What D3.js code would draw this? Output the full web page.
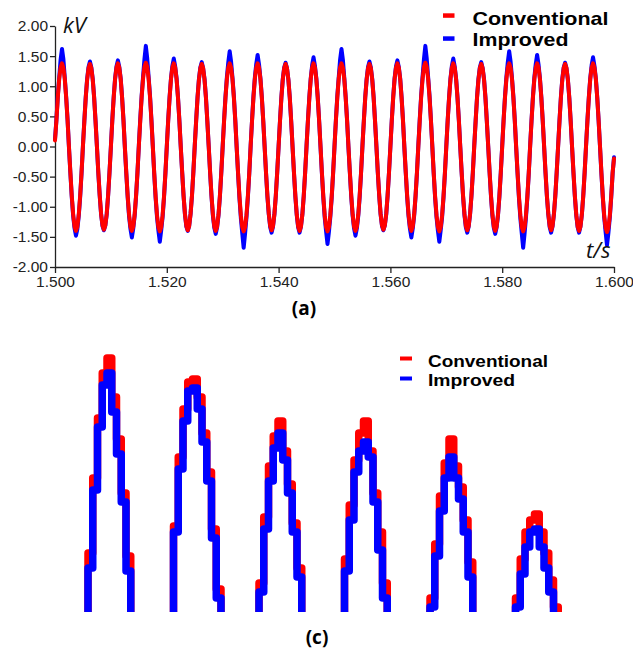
<!DOCTYPE html>
<html><head><meta charset="utf-8">
<script src="https://cdn.jsdelivr.net/npm/d3@7"></script>
<style>body{margin:0;background:#fff}svg{display:block}</style>
</head><body>
<svg id="chart" width="633" height="652"></svg>
<script>
// ---------- shared ----------
const seriesNames = ["Conventional", "Improved"];
const seriesColors = ["#ff0000", "#0000ff"];

// ---------- panel (a) ----------
const yTicksA = [2, 1.5, 1, 0.5, 0, -0.5, -1, -1.5, -2];
const yTickLabelsA = ["2.00", "1.50", "1.00", "0.50", "0.00", "-0.50", "-1.00", "-1.50", "-2.00"];
const xTicksA = [1.5, 1.52, 1.54, 1.56, 1.58, 1.6];
const xTickLabelsA = ["1.500", "1.520", "1.540", "1.560", "1.580", "1.600"];
const tStart = 1.5, sampleStep = 0.00025;   // s
const conventionalA = [
 0.10,0.43,0.81,1.12,1.31,1.38,1.31,1.12,0.81,0.43,-0.01,-0.43,-0.82,-1.13,-1.33,-1.40,-1.33,-1.13,-0.82,-0.43,
 0.01,0.42,0.81,1.11,1.30,1.37,1.30,1.11,0.81,0.42,0.00,-0.43,-0.81,-1.12,-1.31,-1.38,-1.31,-1.12,-0.81,-0.43,
 0.00,0.43,0.81,1.12,1.31,1.38,1.31,1.12,0.81,0.43,-0.01,-0.43,-0.82,-1.13,-1.33,-1.40,-1.33,-1.13,-0.82,-0.43,
 0.01,0.43,0.82,1.12,1.32,1.39,1.32,1.12,0.82,0.43,0.00,-0.44,-0.83,-1.14,-1.34,-1.41,-1.34,-1.14,-0.83,-0.44,
 0.00,0.43,0.81,1.12,1.31,1.38,1.31,1.12,0.81,0.43,-0.01,-0.43,-0.82,-1.12,-1.32,-1.39,-1.32,-1.12,-0.82,-0.43,
 0.01,0.42,0.81,1.11,1.30,1.37,1.30,1.11,0.81,0.42,0.00,-0.43,-0.82,-1.13,-1.33,-1.40,-1.33,-1.13,-0.82,-0.43,
 0.00,0.43,0.81,1.12,1.31,1.38,1.31,1.12,0.81,0.43,-0.01,-0.44,-0.83,-1.14,-1.34,-1.41,-1.34,-1.14,-0.83,-0.44,
 0.01,0.43,0.81,1.12,1.31,1.38,1.31,1.12,0.81,0.43,0.00,-0.43,-0.82,-1.12,-1.32,-1.39,-1.32,-1.12,-0.82,-0.43,
 0.00,0.42,0.81,1.11,1.30,1.37,1.30,1.11,0.81,0.42,-0.01,-0.43,-0.82,-1.13,-1.33,-1.40,-1.33,-1.13,-0.82,-0.43,
 0.01,0.43,0.81,1.12,1.31,1.38,1.31,1.12,0.81,0.43,0.00,-0.44,-0.83,-1.14,-1.34,-1.41,-1.34,-1.14,-0.83,-0.44,
 0.00,0.43,0.81,1.12,1.31,1.38,1.31,1.12,0.81,0.43,-0.01,-0.43,-0.82,-1.13,-1.33,-1.40,-1.33,-1.13,-0.82,-0.43,
 0.01,0.42,0.81,1.11,1.30,1.37,1.30,1.11,0.81,0.42,0.00,-0.43,-0.81,-1.12,-1.31,-1.38,-1.31,-1.12,-0.81,-0.43,
 0.00,0.43,0.81,1.12,1.31,1.38,1.31,1.12,0.81,0.43,-0.01,-0.43,-0.82,-1.13,-1.33,-1.40,-1.33,-1.13,-0.82,-0.43,
 0.01,0.43,0.82,1.12,1.32,1.39,1.32,1.12,0.82,0.43,0.00,-0.44,-0.83,-1.14,-1.34,-1.41,-1.34,-1.14,-0.83,-0.44,
 0.00,0.43,0.81,1.12,1.31,1.38,1.31,1.12,0.81,0.43,-0.01,-0.43,-0.82,-1.12,-1.32,-1.39,-1.32,-1.12,-0.82,-0.43,
 0.01,0.42,0.81,1.11,1.30,1.37,1.30,1.11,0.81,0.42,0.00,-0.43,-0.82,-1.13,-1.33,-1.40,-1.33,-1.13,-0.82,-0.43,
 0.00,0.43,0.81,1.12,1.31,1.38,1.31,1.12,0.81,0.43,-0.01,-0.44,-0.83,-1.14,-1.34,-1.41,-1.34,-1.14,-0.83,-0.44,
 0.01,0.43,0.81,1.12,1.31,1.38,1.31,1.12,0.81,0.43,0.00,-0.43,-0.82,-1.12,-1.32,-1.39,-1.32,-1.12,-0.82,-0.43,
 0.00,0.42,0.81,1.11,1.30,1.37,1.30,1.11,0.81,0.42,-0.01,-0.43,-0.82,-1.13,-1.33,-1.40,-1.33,-1.13,-0.82,-0.43,
 0.01,0.43,0.81,1.12,1.31,1.38,1.31,1.12,0.81,0.43,0.00,-0.44,-0.83,-1.15,-1.35,-1.42,-1.35,-1.15,-0.83,-0.44,
 -0.20
];
const improvedA = [
 0.12,0.44,0.83,1.14,1.44,1.62,1.45,1.14,0.82,0.44,-0.02,-0.44,-0.84,-1.15,-1.36,-1.48,-1.37,-1.15,-0.84,-0.44,
 0.01,0.43,0.82,1.12,1.32,1.41,1.31,1.12,0.82,0.43,0.00,-0.44,-0.82,-1.13,-1.32,-1.39,-1.31,-1.13,-0.82,-0.43,
 0.00,0.44,0.82,1.13,1.33,1.43,1.32,1.13,0.82,0.44,-0.02,-0.44,-0.84,-1.16,-1.37,-1.51,-1.36,-1.15,-0.83,-0.44,
 0.02,0.45,0.84,1.15,1.45,1.67,1.46,1.15,0.84,0.44,0.00,-0.45,-0.85,-1.17,-1.40,-1.58,-1.39,-1.17,-0.85,-0.45,
 0.00,0.44,0.82,1.13,1.34,1.46,1.33,1.13,0.82,0.43,-0.01,-0.43,-0.82,-1.13,-1.33,-1.40,-1.32,-1.12,-0.82,-0.43,
 0.01,0.43,0.82,1.12,1.31,1.40,1.30,1.12,0.82,0.42,0.00,-0.44,-0.83,-1.15,-1.35,-1.45,-1.34,-1.14,-0.83,-0.43,
 0.01,0.44,0.83,1.15,1.40,1.58,1.41,1.14,0.83,0.44,-0.02,-0.45,-0.86,-1.19,-1.44,-1.68,-1.45,-1.18,-0.85,-0.45,
 0.01,0.44,0.83,1.14,1.37,1.52,1.36,1.13,0.82,0.43,0.00,-0.44,-0.83,-1.13,-1.34,-1.43,-1.33,-1.13,-0.82,-0.43,
 0.00,0.43,0.82,1.12,1.31,1.39,1.30,1.11,0.81,0.42,-0.01,-0.44,-0.83,-1.14,-1.34,-1.43,-1.33,-1.13,-0.82,-0.43,
 0.01,0.44,0.82,1.13,1.35,1.48,1.34,1.13,0.82,0.43,-0.01,-0.45,-0.85,-1.18,-1.41,-1.62,-1.42,-1.17,-0.85,-0.45,
 0.00,0.44,0.83,1.14,1.44,1.62,1.44,1.14,0.82,0.44,-0.02,-0.44,-0.84,-1.15,-1.36,-1.48,-1.36,-1.15,-0.84,-0.44,
 0.01,0.43,0.82,1.12,1.32,1.41,1.31,1.12,0.82,0.43,0.00,-0.44,-0.82,-1.13,-1.32,-1.39,-1.31,-1.13,-0.82,-0.43,
 0.00,0.44,0.82,1.13,1.33,1.43,1.32,1.13,0.82,0.44,-0.02,-0.44,-0.84,-1.16,-1.37,-1.51,-1.36,-1.15,-0.83,-0.44,
 0.02,0.45,0.84,1.15,1.45,1.67,1.46,1.15,0.84,0.44,0.00,-0.45,-0.85,-1.17,-1.40,-1.58,-1.39,-1.17,-0.85,-0.45,
 0.00,0.44,0.82,1.13,1.34,1.46,1.33,1.13,0.82,0.43,-0.01,-0.44,-0.83,-1.14,-1.34,-1.43,-1.33,-1.13,-0.82,-0.43,
 0.01,0.43,0.82,1.12,1.31,1.40,1.30,1.12,0.82,0.42,0.00,-0.44,-0.83,-1.15,-1.35,-1.45,-1.34,-1.14,-0.83,-0.43,
 0.01,0.44,0.83,1.15,1.40,1.58,1.41,1.14,0.83,0.44,-0.02,-0.45,-0.86,-1.19,-1.44,-1.68,-1.45,-1.18,-0.85,-0.45,
 0.01,0.44,0.83,1.14,1.37,1.52,1.36,1.13,0.82,0.43,0.00,-0.44,-0.83,-1.13,-1.34,-1.43,-1.33,-1.13,-0.82,-0.43,
 0.00,0.43,0.82,1.12,1.31,1.39,1.30,1.11,0.81,0.42,-0.01,-0.44,-0.83,-1.14,-1.34,-1.43,-1.33,-1.13,-0.82,-0.43,
 0.01,0.44,0.82,1.13,1.35,1.48,1.34,1.13,0.82,0.43,-0.01,-0.45,-0.85,-1.18,-1.42,-1.64,-1.43,-1.18,-0.85,-0.45,
 -0.18
];

// ---------- panel (c) ----------
const pulseStart = [2, 20, 38, 56, 74, 92];      // sample index where each pulse begins
const conventionalC = [
 [0.29, 0.54, 0.74, 0.89, 0.94, 0.81, 0.67, 0.49, 0.28],
 [0.38, 0.61, 0.77, 0.86, 0.87, 0.81, 0.69, 0.56, 0.37, 0.17],
 [0.19, 0.41, 0.58, 0.68, 0.73, 0.63, 0.52, 0.39, 0.24],
 [0.27, 0.45, 0.60, 0.69, 0.73, 0.63, 0.49, 0.36, 0.19],
 [0.14, 0.32, 0.48, 0.59, 0.67, 0.58, 0.51, 0.40, 0.26],
 [0.14, 0.27, 0.36, 0.40, 0.42, 0.36, 0.29, 0.20, 0.11]
];
const improvedC = [
 [0.24, 0.50, 0.71, 0.85, 0.89, 0.76, 0.62, 0.46, 0.23],
 [0.36, 0.57, 0.73, 0.83, 0.84, 0.77, 0.66, 0.53, 0.34, 0.14],
 [0.16, 0.37, 0.53, 0.64, 0.69, 0.60, 0.49, 0.36, 0.21],
 [0.23, 0.40, 0.56, 0.63, 0.66, 0.61, 0.46, 0.30, 0.14],
 [0.11, 0.28, 0.43, 0.54, 0.61, 0.54, 0.47, 0.36, 0.21],
 [0.11, 0.22, 0.31, 0.36, 0.37, 0.31, 0.24, 0.16, 0.08]
];

// ================= drawing =================
const svg = d3.select("#chart");
const legendFont = "'Liberation Sans', Arial, sans-serif";

// ---- panel (a) ----
const xA = d3.scaleLinear().domain([1.5, 1.6]).range([55, 614]);
const yA = d3.scaleLinear().domain([-2, 2]).range([267, 26]);

const gA = svg.append("g");
const axY = gA.append("g").attr("transform", "translate(55,0)")
  .call(d3.axisLeft(yA).tickValues(yTicksA).tickFormat((d, i) => yTickLabelsA[i]).tickSize(5).tickSizeOuter(0).tickPadding(2));
const axX = gA.append("g").attr("transform", "translate(0,267)")
  .call(d3.axisBottom(xA).tickValues(xTicksA).tickFormat((d, i) => xTickLabelsA[i]).tickSize(6).tickSizeOuter(0).tickPadding(3));
[axY, axX].forEach(a => {
  a.selectAll("path,line").attr("stroke", "#222").attr("stroke-width", 1.3);
  a.selectAll("text").attr("font-family", "'Liberation Sans', Arial, sans-serif").attr("font-size", 15.5).attr("fill", "#222");
});

const lineA = d3.line().curve(d3.curveLinear)
  .x((d, i) => xA(tStart + i * sampleStep)).y(d => yA(d));
[[improvedA, seriesColors[1]], [conventionalA, seriesColors[0]]].forEach(([data, col]) => {
  gA.append("path").datum(data).attr("d", lineA)
    .attr("fill", "none").attr("stroke", col).attr("stroke-width", 4)
    .attr("stroke-linejoin", "round").attr("stroke-linecap", "round");
});

gA.append("text").attr("x", 63).attr("y", 33).text("kV")
  .attr("font-family", "'Open Sans', sans-serif").attr("font-style", "italic").attr("font-size", 22).attr("fill", "#111");
gA.append("text").attr("x", 586).attr("y", 258).text("t/s")
  .attr("font-family", "'Open Sans', sans-serif").attr("font-style", "italic").attr("font-size", 22).attr("fill", "#111");

// legend (a)
const legAWidths = [136, 96];
const legA = gA.append("g");
seriesNames.forEach((name, i) => {
  legA.append("rect").attr("x", 443).attr("y", 13.3 + i * 23).attr("width", 11.5).attr("height", 4.5).attr("fill", seriesColors[i]);
  legA.append("text").attr("x", 472.5).attr("y", 25 + i * 21).text(name)
    .attr("textLength", legAWidths[i]).attr("lengthAdjust", "spacingAndGlyphs")
    .attr("font-family", legendFont).attr("font-weight", "bold").attr("font-size", 18.5).attr("fill", "#000");
});
gA.append("text").attr("x", 304).attr("y", 315).attr("text-anchor", "middle").text("(a)")
  .attr("font-family", "'Open Sans', sans-serif").attr("font-weight", "bold").attr("font-size", 19).attr("fill", "#000");

// ---- panel (c) ----
const xC = d3.scaleLinear().domain([0, 112]).range([78.5, 610.5]);
const yC = d3.scaleLinear().domain([0, 1]).range([640, 340]);
svg.append("defs").append("clipPath").attr("id", "clipC")
  .append("rect").attr("x", 0).attr("y", 300).attr("width", 633).attr("height", 312);

function buildPulses(pulses) {
  const pts = [];
  pulses.forEach((levels, k) => {
    const s = pulseStart[k];
    pts.push({ n: s, v: 0 });
    levels.forEach((v, j) => pts.push({ n: s + j, v }));
    pts.push({ n: s + levels.length, v: 0 });
  });
  return pts;
}
const lineC = d3.line().curve(d3.curveStepAfter).x(d => xC(d.n)).y(d => yC(d.v));
const gC = svg.append("g").attr("clip-path", "url(#clipC)");
[[conventionalC, seriesColors[0]], [improvedC, seriesColors[1]]].forEach(([data, col]) => {
  gC.append("path").datum(buildPulses(data)).attr("d", lineC)
    .attr("fill", "none").attr("stroke", col).attr("stroke-width", 7.5)
    .attr("stroke-linejoin", "round").attr("stroke-linecap", "round");
});

const legCWidths = [120, 87];
const legC = svg.append("g");
seriesNames.forEach((name, i) => {
  legC.append("rect").attr("x", 400).attr("y", 356.5 + i * 20).attr("width", 12).attr("height", 4).attr("fill", seriesColors[i]);
  legC.append("text").attr("x", 428).attr("y", 366.5 + i * 19).text(name)
    .attr("textLength", legCWidths[i]).attr("lengthAdjust", "spacingAndGlyphs")
    .attr("font-family", legendFont).attr("font-weight", "bold").attr("font-size", 16.5).attr("fill", "#000");
});
svg.append("text").attr("x", 317).attr("y", 644).attr("text-anchor", "middle").text("(c)")
  .attr("font-family", "'Open Sans', sans-serif").attr("font-weight", "bold").attr("font-size", 19).attr("fill", "#000");
</script>
</body></html>
